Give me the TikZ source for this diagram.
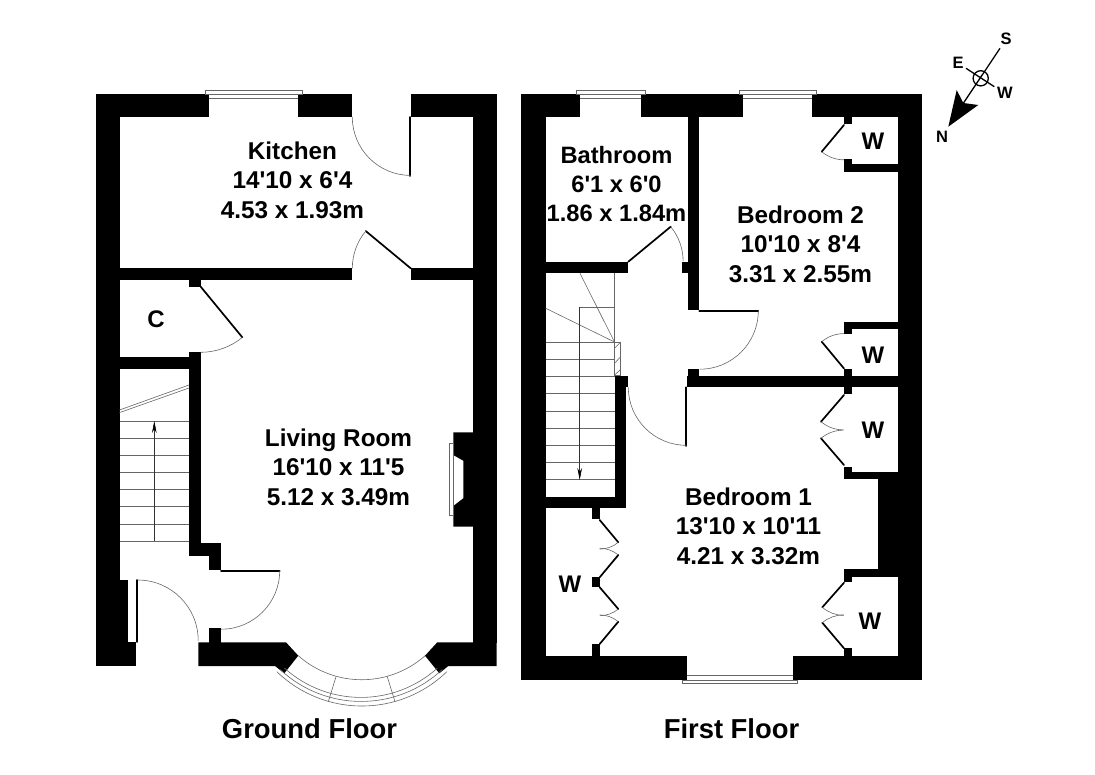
\documentclass[tikz,border=0pt]{standalone}
\usepackage{fontspec}
\usepackage{tikz}
\usetikzlibrary{arrows.meta}
\newfontfamily\planfont{Liberation Sans}
\tikzset{
  wall/.style={fill=black,draw=none},
  leaf/.style={draw=black,line width=1.7pt,line cap=round},
  fine/.style={draw=black!60,line width=0.6pt},
  room/.style={font=\planfont\bfseries\fontsize{24.3}{29.5}\selectfont,align=center,inner sep=0pt},
  smallroom/.style={font=\planfont\bfseries\fontsize{23.7}{29}\selectfont,align=center,inner sep=0pt},
  robe/.style={font=\planfont\bfseries\fontsize{24}{29}\selectfont,inner sep=0pt},
  floorname/.style={font=\planfont\bfseries\fontsize{27.4}{32}\selectfont,inner sep=0pt},
  compass/.style={font=\planfont\bfseries\fontsize{16.5}{18}\selectfont,inner sep=0pt}
}
\begin{document}
\begin{tikzpicture}[x=1pt,y=-1pt]
    \useasboundingbox (0,0) rectangle (1095,774);
    \fill[wall] (96,94) rectangle (209,117.3);
    \fill[wall] (298,94) rectangle (352.3,117.3);
    \fill[wall] (410.7,94) rectangle (496.7,117.3);
    \fill[wall] (96,117) rectangle (119.5,642.5);
    \fill[wall] (473,117) rectangle (496.7,642.5);
    \fill[wall] (96,642.3) rectangle (136,666);
    \fill[wall] (119,268.3) rectangle (352.3,280);
    \fill[wall] (410.7,268.3) rectangle (473,280);
    \fill[wall] (189,280) rectangle (200.7,286.7);
    \fill[wall] (119,357.3) rectangle (200.7,369.3);
    \fill[wall] (189,352.3) rectangle (200.7,543.5);
    \fill[wall] (189,543.3) rectangle (221,555.7);
    \fill[wall] (209.3,555.5) rectangle (221,570);
    \fill[wall] (209.3,628.3) rectangle (221,642.5);
    \fill[wall] (119,580) rectangle (128,642.5);
    \fill[wall] (198.3,642.3) -- (286,642.3) -- (298.3,655.7) -- (284.3,673.3) -- (275,666) -- (198.3,666) -- cycle;
    \fill[wall] (496.7,642.3) -- (437.3,642.3) -- (425,655.7) -- (439.3,673.3) -- (448.3,666) -- (496.7,666) -- cycle;
    \fill[wall] (473,432.3) -- (453.3,432.3) -- (453.3,455) -- (463.3,460.7) -- (463.3,498.3) -- (453.3,506) -- (453.3,526.7) -- (473,526.7) -- cycle;
    \draw[fine] (205.3,94) -- (205.3,90) -- (302.7,90) -- (302.7,94) -- cycle;
    \draw[fine] (209,98.3) -- (298,98.3);
    \draw[fine] (449.3,443.3) rectangle (453.3,515.7);
    \draw[leaf] (136.8,580) -- (136.8,642);
    \draw[fine] (137.7,580) arc[start angle=-90,end angle=0,radius=60.5];
    \draw[leaf] (410,117) -- (410,176);
    \draw[fine] (352.3,117) arc[start angle=180,end angle=90,radius=58.4];
    \draw[leaf] (410.7,268.3) -- (365.7,231);
    \draw[fine] (352.3,268.3) arc[start angle=180,end angle=219.6,radius=58.4];
    \draw[leaf] (200.7,286.7) -- (242.3,337.3);
    \draw[fine] (200.7,352.3) arc[start angle=90,end angle=50.6,radius=65.6];
    \draw[leaf] (221,570.7) -- (279.7,570.7);
    \draw[fine] (279.7,570.7) arc[start angle=0,end angle=90,radius=58.5];
    \foreach \y in {421,438.3,455.3,472.3,489.3,506.7,524,541.3} {
      \draw[fine] (119.5,\y) -- (189,\y);
    }
    \draw[fine] (119.5,410) -- (189,385);
    \draw[fine] (119.5,412.6) -- (189,388);
    \draw[fine,draw=black!80,-{Stealth[length=12pt,width=4.6pt,black]}] (154.3,541.3) -- (154.3,421);
    \draw[fine] (298.3,655.7) arc[start angle=131.5,end angle=48.5,radius=95.7];
    \draw[fine] (276.9,671.7) arc[start angle=134,end angle=46,radius=122.3];
    \draw[fine] (280.1,669.5) arc[start angle=133,end angle=47,radius=118.9];
    \draw[fine] (284.3,668) arc[start angle=132,end angle=48,radius=114.5];
    \draw[fine] (336,676.7) -- (328.3,701.7);
    \draw[fine] (387.3,676.7) -- (395,701.7);
    \fill[wall] (521,94) rectangle (580.3,117.3);
    \fill[wall] (641.3,94) rectangle (743.3,117.3);
    \fill[wall] (811.7,94) rectangle (922.3,117.3);
    \fill[wall] (521,117) rectangle (545.7,656.5);
    \fill[wall] (898.3,117) rectangle (922.3,656.5);
    \fill[wall] (521,656) rectangle (686.7,680);
    \fill[wall] (793,656) rectangle (922.3,680);
    \fill[wall] (878.3,479) rectangle (898.5,569.5);
    \fill[wall] (687.7,117) rectangle (699.3,310);
    \fill[wall] (682.3,261.7) rectangle (688,272.7);
    \fill[wall] (545.7,261.7) rectangle (628.3,273.3);
    \fill[wall] (687.7,369) rectangle (699.3,376);
    \fill[wall] (686.7,375.7) rectangle (898.5,387.3);
    \fill[wall] (614.5,375.7) rectangle (628.3,387.3);
    \fill[wall] (614.5,387) rectangle (626.3,508.3);
    \fill[wall] (545.7,496.7) rectangle (626.3,508.3);
    \fill[wall] (844,117) rectangle (851.7,124);
    \fill[wall] (844,159.3) rectangle (851.7,164.5);
    \fill[wall] (844,164) rectangle (898.5,172.3);
    \fill[wall] (844,321.7) rectangle (898.5,329.3);
    \fill[wall] (844,329) rectangle (851.7,334);
    \fill[wall] (844,369) rectangle (851.7,376);
    \fill[wall] (844,387) rectangle (851.7,394);
    \fill[wall] (844,466.7) rectangle (851.7,472);
    \fill[wall] (844,471.7) rectangle (898.5,479.3);
    \fill[wall] (844,569.3) rectangle (898.5,577.3);
    \fill[wall] (844,577) rectangle (851.7,581.7);
    \fill[wall] (844,648.3) rectangle (851.7,656.5);
    \fill[wall] (591.7,508) rectangle (599.7,519.3);
    \fill[wall] (591.7,577.3) rectangle (599.7,587.3);
    \fill[wall] (591.7,644) rectangle (599.7,656.5);
    \draw[fine] (576.3,94) -- (576.3,90) -- (645.7,90) -- (645.7,94) -- cycle;
    \draw[fine] (580.3,98.3) -- (641.3,98.3);
    \draw[fine] (739.3,94) -- (739.3,90) -- (816.7,90) -- (816.7,94) -- cycle;
    \draw[fine] (743.3,98.3) -- (811.7,98.3);
    \draw[fine] (682.3,680) -- (682.3,683.3) -- (797.7,683.3) -- (797.7,680) -- cycle;
    \draw[fine] (686.7,675.7) -- (793,675.7);
    \draw[leaf] (628.3,261.7) -- (670.7,226.7);
    \draw[fine] (670.7,226.7) arc[start angle=-39.5,end angle=0,radius=54.5];
    \draw[leaf] (699.3,310.7) -- (758.3,310.7);
    \draw[fine] (758.3,310.7) arc[start angle=0,end angle=90,radius=58.5];
    \draw[leaf] (685.7,387.3) -- (685.7,446);
    \draw[fine] (628.3,387.3) arc[start angle=180,end angle=90,radius=58];
    \draw[leaf] (844,125) -- (821.7,151.7);
    \draw[fine] (821.7,151.7) arc[start angle=130,end angle=90,radius=34.7];
    \draw[leaf] (844,368.5) -- (821.7,341.7);
    \draw[fine] (821.7,341.7) arc[start angle=230,end angle=270,radius=34.7];
    \draw[leaf] (844,395) -- (821,421.7);
    \draw[fine] (821,421.7) arc[start angle=130,end angle=90,radius=35];
    \draw[leaf] (844,465) -- (821,438.3);
    \draw[fine] (821,438.3) arc[start angle=230,end angle=270,radius=35];
    \draw[leaf] (844,582.7) -- (822.3,607.3);
    \draw[fine] (822.3,607.3) arc[start angle=131,end angle=90,radius=32.8];
    \draw[leaf] (844,648.3) -- (822.3,622.7);
    \draw[fine] (822.3,622.7) arc[start angle=230,end angle=270,radius=33.5];
    \draw[leaf] (599.7,520) -- (618.3,542.3);
    \draw[fine] (618.3,542.3) arc[start angle=50,end angle=90,radius=29];
    \draw[leaf] (599.7,577.3) -- (618.3,555);
    \draw[fine] (618.3,555) arc[start angle=-50,end angle=-90,radius=29];
    \draw[leaf] (599.7,587.3) -- (618.3,609);
    \draw[fine] (618.3,609) arc[start angle=50,end angle=90,radius=28.5];
    \draw[leaf] (599.7,644) -- (618.3,621.7);
    \draw[fine] (618.3,621.7) arc[start angle=-50,end angle=-90,radius=29];
    \foreach \y in {342,359.3,376.3,393.7,411,428.3,445.3,462.3,479.3} {
      \draw[fine] (545.7,\y) -- (614.5,\y);
    }
    \draw[fine] (614.5,273.3) -- (614.5,376);
    \draw[fine] (579.7,307.3) -- (614.5,307.3);
    \draw[fine] (580,273.3) -- (614.5,342);
    \draw[fine] (545.7,308.3) -- (614.5,342);
    \draw[fine] (614.5,342) rectangle (620.7,375.7);
    \draw[fine] (614.5,348.3) -- (620.7,342);
    \draw[fine] (614.5,363.3) -- (620.7,356.7);
    \draw[fine] (614.5,375) -- (620.7,369.5);
    \draw[fine,draw=black!80,-{Stealth[length=12pt,width=4.6pt,black]}] (579.7,307.3) -- (579.7,480);
    \draw[line width=1.3pt] (980.7,78.3) circle[radius=7.6];
    \draw[line width=1.3pt] (1000,48.3) -- (963.3,103.3);
    \draw[line width=1.3pt] (966,68.3) -- (994.3,86.7);
    \fill[black] (948.3,126.7) -- (956.7,90) -- (963.3,103) -- (978.3,105) -- cycle;
    \node[compass] (pointS) at (1006,38.5) {S};
    \node[compass] (pointE) at (958,62.5) {E};
    \node[compass] (pointW) at (1005,92.5) {W};
    \node[compass] (pointN) at (942,136.5) {N};
    \node[room] (kitchen) at (292.5,180) {Kitchen\\14'10 x 6'4\\4.53 x 1.93m};
    \node[room] (living) at (338.5,467) {Living Room\\16'10 x 11'5\\5.12 x 3.49m};
    \node[smallroom] (bathroom) at (616.5,184) {Bathroom\\6'1 x 6'0\\1.86 x 1.84m};
    \node[room] (bedtwo) at (800.5,244) {Bedroom 2\\10'10 x 8'4\\3.31 x 2.55m};
    \node[room] (bedone) at (748.5,526) {Bedroom 1\\13'10 x 10'11\\4.21 x 3.32m};
    \node[robe] (cupboard) at (156,319) {C};
    \node[robe] (robeA) at (873,141) {W};
    \node[robe] (robeB) at (873,355) {W};
    \node[robe] (robeC) at (873,430) {W};
    \node[robe] (robeD) at (870,621) {W};
    \node[robe] (robeE) at (570,584) {W};
    \node[floorname] (ground) at (309.5,728.5) {Ground Floor};
    \node[floorname] (first) at (731.5,728.5) {First Floor};
  \end{tikzpicture}
\end{document}
